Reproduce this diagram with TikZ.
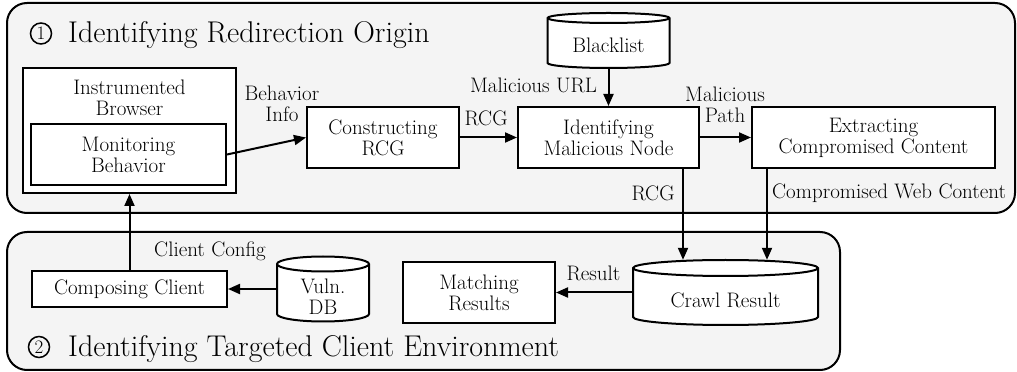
\documentclass[tikz,border=0pt]{standalone}
\usepackage{fontspec}
\usetikzlibrary{arrows.meta,calc}
\definecolor{grpfill}{RGB}{244,244,244}
\newcommand\myNodeFont{\fontsize{21}{21}\selectfont}
\newcommand\myTitleFont{\fontsize{30}{31}\selectfont}
\newcommand\myCircFont{\fontsize{19}{19}\selectfont}
\tikzset{
  grp/.style={draw, line width=2pt, rounded corners=20pt, fill=grpfill},
  box/.style={draw, line width=2pt, fill=white, inner sep=0pt, align=center, font=\myNodeFont},
  txt/.style={inner sep=0pt, align=center, font=\myNodeFont},
  lbl/.style={inner sep=0pt, align=center, font=\myNodeFont},
  circnum/.style={circle, draw, line width=1.5pt, minimum size=21pt, inner sep=0pt, font=\myCircFont},
  dbline/.style={line width=2pt},
  dbshape/.style={inner sep=0pt, draw=none},
  arr/.style={line width=2pt, -{Triangle[length=12pt,width=10pt]}},
}
% name, cx, cy, w, h, ry, text
\newcommand\dbnode[7]{%
  \filldraw[dbline, fill=white] (#2-#4/2, #3+#5/2-#6) -- (#2-#4/2, #3-#5/2+#6)
     arc[start angle=180, end angle=360, x radius=#4/2, y radius=#6]
     -- (#2+#4/2, #3+#5/2-#6)
     arc[start angle=0, end angle=180, x radius=#4/2, y radius=#6] -- cycle;
  \draw[dbline] (#2-#4/2, #3+#5/2-#6)
     arc[start angle=180, end angle=360, x radius=#4/2, y radius=#6];
  \node[dbshape, minimum width=#4, minimum height=#5] (#1) at (#2,#3) {};
  \node[txt] (#1-text) at (#2, #3-#6) {#7};
}
\begin{document}
\begin{tikzpicture}[x=1pt,y=1pt]
\useasboundingbox (0,0) rectangle (1017,372);
% groups
\draw[grp] (7,159) rectangle (1015,369);
\draw[grp] (7,2) rectangle (840,140);
% titles
\node[circnum] (c1) at (41,338.5) {1};
\node[anchor=base west, font=\myTitleFont, inner sep=0pt] (t1) at (68,329) {Identifying Redirection Origin};
\node[circnum] (c2) at (39,25) {2};
\node[anchor=base west, font=\myTitleFont, inner sep=0pt] (t2) at (68,16) {Identifying Targeted Client Environment};
% top row
\node[box, minimum width=213, minimum height=125] (browser) at (129.5,241.5) {};
\node[txt, anchor=north] (browsertxt) at ([yshift=-12.5]browser.north) {Instrumented\\Browser};
\node[box, minimum width=195, minimum height=61] (monitor) at (128.5,217.5) {Monitoring\\Behavior};
\node[box, minimum width=152, minimum height=61] (construct) at (383,234.5) {Constructing\\RCG};
\node[box, minimum width=181, minimum height=61] (ident) at (608.5,234.5) {Identifying\\Malicious Node};
\node[box, minimum width=243, minimum height=61] (extract) at (873.5,234.5) {Extracting\\Compromised Content};
\dbnode{blacklist}{608.5}{331.5}{122}{55}{5}{Blacklist}
% bottom row
\node[box, minimum width=195, minimum height=36] (composing) at (129.5,83) {Composing Client};
\dbnode{vuln}{323}{83}{92}{65}{7.5}{Vuln.\\DB}
\node[box, minimum width=152, minimum height=61] (matching) at (479,79.5) {Matching\\Results};
\dbnode{crawl}{725.5}{79.5}{185}{65}{8}{Crawl Result}
% connectors
\draw[arr] (monitor.east) -- (construct.west);
\draw[arr] (construct.east) -- (ident.west);
\draw[arr] (blacklist.south) -- (ident.north);
\draw[arr] (ident.east) -- (extract.west);
\coordinate (rcgstart) at ([xshift=74.5]ident.south);
\coordinate (cwcstart) at ([xshift=-106.5]extract.south);
\draw[arr] (rcgstart) -- (rcgstart |- crawl.north);
\draw[arr] (cwcstart) -- (cwcstart |- crawl.north);
\draw[arr] (crawl.west) -- (matching.east);
\draw[arr] (vuln.west) -- (composing.east);
\draw[arr] (composing.north) -- (browser.south);
% labels
\node[lbl] (lbehav) at (282,268) {Behavior\\Info};
\node[lbl] (lrcg1) at (486,254) {RCG};
\node[lbl] (lurl) at (533.5,287) {Malicious URL};
\node[lbl] (lpath) at (725,267) {Malicious\\Path};
\node[lbl] (lrcg2) at (653,179) {RCG};
\node[lbl, anchor=west] (lcwc) at (772,179) {Compromised Web Content};
\node[lbl] (lres) at (593.5,99) {Result};
\node[lbl] (lcfg) at (210,121) {Client Config};
\end{tikzpicture}
\end{document}
